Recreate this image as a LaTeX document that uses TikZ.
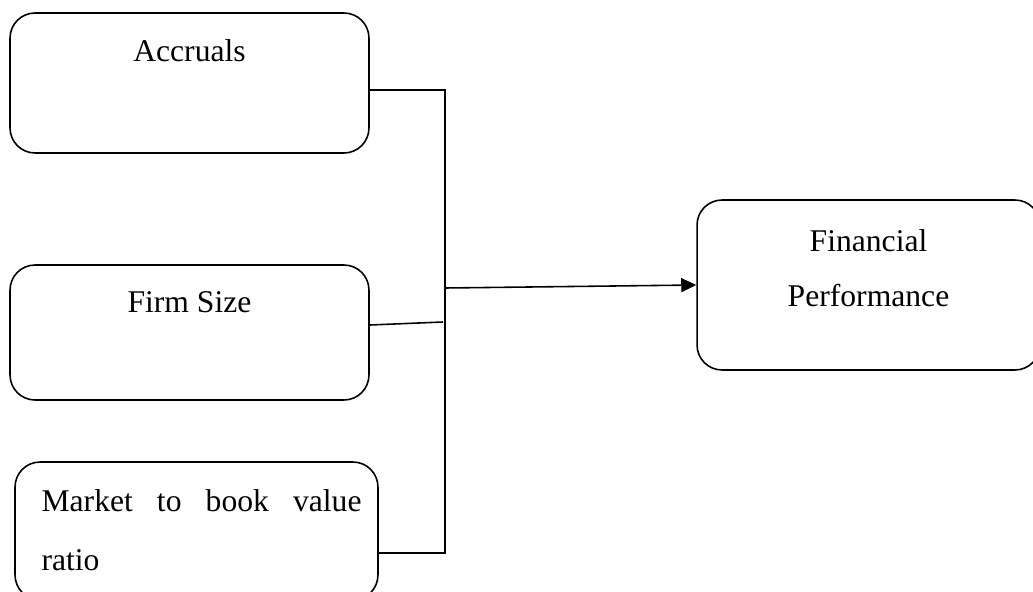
\documentclass[tikz,border=0pt]{standalone}
\usepackage{fontspec}
\setmainfont{Liberation Serif}
\usetikzlibrary{arrows.meta}

\tikzset{
  factor/.style={draw,line width=0.9pt,rounded corners=0.5cm,inner sep=0pt},
  link/.style={line width=0.9pt},
  lbl/.style={inner sep=0pt,font=\fontsize{18}{22}\selectfont}
}

\begin{document}
\begin{tikzpicture}[x=0.02cm,y=-0.02cm]
  \useasboundingbox (0,0) rectangle (1033,591);
  % boxes
  \node[factor,minimum width=7.18cm,minimum height=2.8cm] (acc) at (189.5,83) {};
  \node[factor,minimum width=7.18cm,minimum height=2.7cm] (firm) at (189.5,332.5) {};
  \node[factor,minimum width=7.26cm,minimum height=2.76cm] (mtb) at (196.5,531) {};
  \node[factor,minimum width=6.86cm,minimum height=3.4cm] (perf) at (868.5,285) {};
  % labels
  \node[lbl,anchor=base] (acclbl) at ([yshift=-0.98cm]acc.north) {Accruals};
  \node[lbl,anchor=base] (firmlbl) at ([yshift=-0.96cm]firm.north) {Firm Size};
  \node[lbl,anchor=north west,text width=6.4cm,align=left,font=\fontsize{18}{33.6}\selectfont]
    (mtblbl) at ([xshift=0.54cm,yshift=-0.55cm]mtb.north west) {Market\hfill to\hfill book\hfill value\\ratio};
  \node[lbl,anchor=north,align=center,font=\fontsize{18}{31.3}\selectfont]
    (perflbl) at ([yshift=-0.6cm]perf.north) {Financial\\Performance};
  % bus
  \coordinate (bustop) at (445,90);
  \coordinate (busbot) at (445,553);
  \coordinate (busmid) at (445,288);
  \coordinate (busfirm) at (443,322);
  \draw[link] (acc.east |- bustop) -- (bustop) -- (busbot) -- (mtb.east |- busbot);
  \draw[link] ([yshift=0.15cm]firm.east) -- (busfirm);
  \draw[link,-{Triangle[length=0.3cm,width=0.28cm]}] (busmid) -- (perf.west);
\end{tikzpicture}
\end{document}
